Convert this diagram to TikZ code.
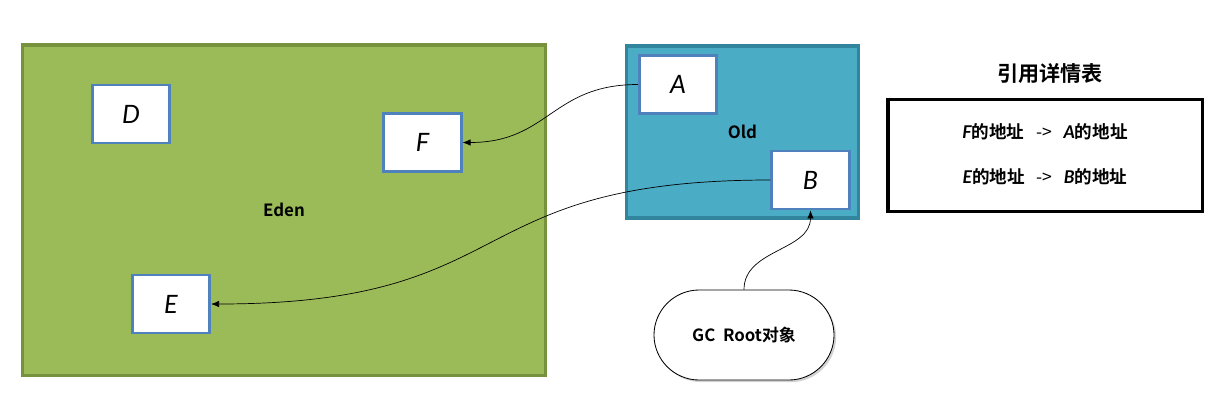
\documentclass[tikz,border=0pt]{standalone}
\usepackage{fontspec}
\setmainfont{Noto Sans CJK SC}[BoldFont={Noto Sans CJK SC Bold}]
\newfontfamily\handfont{Lato}
\usetikzlibrary{arrows.meta,shadows}

\definecolor{edenfill}{HTML}{9BBB59}
\definecolor{edenline}{HTML}{76923C}
\definecolor{oldfill}{HTML}{4BACC6}
\definecolor{oldline}{HTML}{31859C}
\definecolor{objline}{HTML}{4F81BD}

\newcommand{\hand}[1]{{\handfont\itshape #1}}
\newcommand{\pointsto}{\hspace{0.3cm}{\mdseries ->}\hspace{0.28cm}}

\tikzset{
	region/.style={rectangle,line width=2.2pt,inner sep=0pt,font=\bfseries\fontsize{12}{14}\selectfont},
	obj/.style={rectangle,draw=objline,fill=white,line width=2pt,minimum width=1.93cm,minimum height=1.45cm,font=\handfont\itshape\fontsize{18}{20}\selectfont},
	ref/.style={-{Latex[length=2mm,width=1.6mm]},line width=0.5pt},
	entry/.style={font=\bfseries\fontsize{12.5}{15}\selectfont},
}

\begin{document}
\begin{tikzpicture}[x=0.025cm,y=-0.025cm]
	\useasboundingbox (0,0) rectangle (1221,395);
	% generations
	\node[region,draw=edenline,fill=edenfill,minimum width=13.05cm,minimum height=8.25cm] (eden) at (284,210) {Eden};
	\node[region,draw=oldline,fill=oldfill,minimum width=5.78cm,minimum height=4.3cm] (old) at (742.5,132) {Old};
	% objects
	\node[obj] (D) at (131,114) {D};
	\node[obj] (F) at (422.5,142.5) {F};
	\node[obj] (E) at (171,304) {E};
	\node[obj] (A) at (678,84.5) {A};
	\node[obj] (B) at (810.5,180) {B};
	\node[draw,fill=white,rounded corners=1.13cm,minimum width=4.5cm,minimum height=2.25cm,line width=0.6pt,
		drop shadow={opacity=0.35,shadow xshift=1.5pt,shadow yshift=-1.5pt},
		font=\bfseries\fontsize{12}{14}\selectfont] (gc) at (744,335) {GC\ \ Root对象};
	% references
	\draw[ref] (A.west) to[out=180,in=0,looseness=1.2] (F.east);
	\draw[ref] (B.west) to[out=180,in=0,looseness=1.4] (E.east);
	\draw[ref] (gc.north) to[out=90,in=-90] (B.south);
	% table
	\node[font=\bfseries\fontsize{15}{17}\selectfont] (title) at (1050,73) {引用详情表};
	\node[draw,line width=2.2pt,minimum width=7.85cm,minimum height=2.78cm] (table) at (1045,155.5) {};
	\node[entry] (refFA) at (1045,132) {\hand{F}的地址\pointsto\hand{A}的地址};
	\node[entry] (refEB) at (1045,177) {\hand{E}的地址\pointsto\hand{B}的地址};
\end{tikzpicture}
\end{document}
